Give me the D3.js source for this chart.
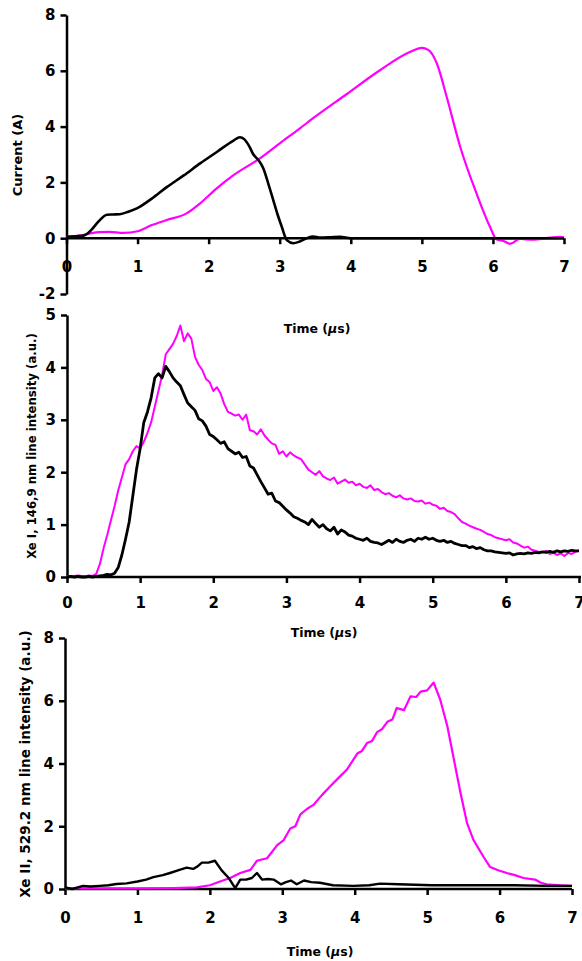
<!DOCTYPE html>
<html>
<head>
<meta charset="utf-8">
<script src="https://cdn.jsdelivr.net/npm/d3@7"></script>
<style>
  body { margin: 0; background: #fff; }
  svg text { font-family: "DejaVu Sans", Verdana, sans-serif; font-weight: bold; fill: #000; }
</style>
</head>
<body>
<script>
// Top panel: discharge current (A) vs time (us)
const currentBlack = [
  [0, 0.05], [0.15, 0.07], [0.25, 0.1], [0.35, 0.3], [0.45, 0.6], [0.57, 0.84], [0.66, 0.85],
  [0.75, 0.86], [0.87, 0.95], [0.99, 1.07], [1.2, 1.42], [1.41, 1.83], [1.65, 2.25],
  [1.88, 2.68], [2.12, 3.1], [2.35, 3.5], [2.44, 3.62], [2.5, 3.55], [2.57, 3.3],
  [2.63, 3.0], [2.7, 2.8], [2.77, 2.5], [2.84, 1.95], [2.91, 1.36], [2.97, 0.85],
  [3.03, 0.4], [3.1, -0.07], [3.19, -0.18], [3.28, -0.12], [3.38, 0.0], [3.47, 0.06],
  [3.57, 0.02], [3.7, 0.03], [3.85, 0.05], [4.0, 0.0], [5.0, 0.0], [6.0, 0.0], [7.0, 0.0]
];
const currentMagenta = [
  [0, 0.05], [0.2, 0.1], [0.35, 0.18], [0.47, 0.22], [0.6, 0.23], [0.8, 0.19], [1.0, 0.25],
  [1.2, 0.47], [1.41, 0.65], [1.69, 0.89], [1.88, 1.25], [2.11, 1.78], [2.35, 2.26],
  [2.72, 2.86], [3.0, 3.4], [3.28, 3.93], [3.47, 4.3], [3.94, 5.16], [4.41, 6.02],
  [4.83, 6.67], [5.0, 6.82], [5.09, 6.75], [5.21, 6.27], [5.35, 5.06], [5.54, 3.27],
  [5.77, 1.6], [5.96, 0.4], [6.05, -0.04], [6.15, -0.1], [6.24, -0.2], [6.29, -0.15],
  [6.38, -0.02], [6.47, -0.04], [6.57, -0.05], [6.75, 0.0], [6.95, 0.05], [7.0, 0.03]
];

// Middle panel: Xe I 146,9 nm line intensity (a.u.), sampled every 0.05 us
const xe1Step = 0.05;
const xe1Black = [
  0.0, 0.01, 0.0, 0.01, 0.0, 0.0, 0.01, 0.0, 0.01, 0.02,
  0.03, 0.05, 0.04, 0.07, 0.18, 0.42, 0.72, 1.05, 1.55, 2.05,
  2.45, 2.95, 3.15, 3.42, 3.8, 3.88, 3.8, 4.02, 3.92, 3.8,
  3.72, 3.65, 3.48, 3.32, 3.25, 3.18, 3.02, 2.98, 2.88, 2.72,
  2.68, 2.62, 2.55, 2.58, 2.45, 2.4, 2.35, 2.38, 2.28, 2.3,
  2.12, 2.08, 1.95, 1.82, 1.7, 1.58, 1.6, 1.45, 1.42, 1.35,
  1.28, 1.22, 1.15, 1.12, 1.08, 1.05, 1.0, 1.1, 1.02, 0.95,
  1.0, 0.92, 0.88, 0.95, 0.82, 0.9, 0.86, 0.8, 0.78, 0.74,
  0.72, 0.7, 0.74, 0.68, 0.66, 0.65, 0.62, 0.66, 0.7, 0.66,
  0.72, 0.68, 0.66, 0.7, 0.72, 0.68, 0.74, 0.72, 0.76, 0.72,
  0.74, 0.7, 0.68, 0.7, 0.66, 0.68, 0.64, 0.62, 0.6, 0.6,
  0.56, 0.58, 0.54, 0.56, 0.52, 0.5, 0.5, 0.48, 0.47, 0.46,
  0.45, 0.46, 0.42, 0.44, 0.45, 0.44, 0.46, 0.45, 0.47, 0.46,
  0.48, 0.47, 0.49, 0.47, 0.5, 0.48, 0.5, 0.49, 0.51, 0.5,
  0.5
];
const xe1Magenta = [
  0.02, 0.01, 0.02, 0.03, 0.02, 0.01, 0.03, 0.02, 0.06, 0.25,
  0.55, 0.8, 1.08, 1.35, 1.65, 1.9, 2.15, 2.25, 2.4, 2.5,
  2.45, 2.58, 2.75, 2.95, 3.25, 3.55, 3.85, 4.25, 4.35, 4.45,
  4.6, 4.8, 4.5, 4.65, 4.55, 4.2, 4.05, 3.95, 3.78, 3.72,
  3.55, 3.62, 3.5, 3.3, 3.15, 3.12, 3.08, 3.1, 3.0, 3.1,
  2.8, 2.78, 2.72, 2.82, 2.7, 2.62, 2.55, 2.52, 2.35, 2.4,
  2.3, 2.38, 2.32, 2.28, 2.25, 2.15, 2.05, 2.0, 1.95, 2.02,
  1.92, 1.88, 1.85, 1.9, 1.78, 1.82, 1.86, 1.8, 1.82, 1.75,
  1.78, 1.72, 1.7, 1.75, 1.66, 1.68, 1.62, 1.58, 1.6, 1.55,
  1.52, 1.56, 1.5, 1.48, 1.5, 1.45, 1.44, 1.46, 1.4, 1.42,
  1.38, 1.36, 1.3, 1.32, 1.26, 1.24, 1.2, 1.12, 1.05, 1.02,
  0.98, 0.95, 0.92, 0.9, 0.86, 0.82, 0.8, 0.76, 0.74, 0.72,
  0.7, 0.72, 0.66, 0.64, 0.6, 0.56, 0.58, 0.52, 0.5, 0.48,
  0.47, 0.5, 0.44, 0.46, 0.42, 0.45, 0.4, 0.46, 0.44, 0.48,
  0.5
];

// Bottom panel: Xe II 529.2 nm line intensity (a.u.)
const xe2Black = [
  [0, 0.05], [0.1, 0.0], [0.25, 0.1], [0.35, 0.08], [0.48, 0.1], [0.6, 0.12], [0.71, 0.16],
  [0.85, 0.18], [1.0, 0.24], [1.12, 0.3], [1.22, 0.38], [1.35, 0.44], [1.45, 0.51],
  [1.57, 0.6], [1.68, 0.68], [1.77, 0.64], [1.83, 0.72], [1.89, 0.84], [1.98, 0.84],
  [2.07, 0.9], [2.16, 0.6], [2.26, 0.35], [2.35, 0.03], [2.42, 0.3], [2.5, 0.3],
  [2.58, 0.35], [2.65, 0.51], [2.72, 0.3], [2.8, 0.32], [2.88, 0.3], [2.98, 0.15],
  [3.05, 0.22], [3.12, 0.27], [3.2, 0.15], [3.3, 0.27], [3.4, 0.22], [3.52, 0.2],
  [3.7, 0.12], [3.98, 0.1], [4.2, 0.12], [4.35, 0.17], [4.6, 0.15], [5.06, 0.12],
  [5.75, 0.12], [6.2, 0.12], [6.66, 0.1], [7.0, 0.1]
];
const xe2Magenta = [
  [0, 0.02], [0.5, 0.02], [1.0, 0.02], [1.5, 0.03], [1.82, 0.05], [2.0, 0.12], [2.14, 0.24],
  [2.28, 0.35], [2.42, 0.51], [2.56, 0.61], [2.65, 0.9], [2.79, 0.98], [2.93, 1.4],
  [3.02, 1.56], [3.11, 1.93], [3.18, 2.0], [3.25, 2.38], [3.34, 2.55], [3.43, 2.68],
  [3.55, 3.0], [3.66, 3.27], [3.78, 3.55], [3.89, 3.8], [4.04, 4.33], [4.1, 4.4],
  [4.17, 4.65], [4.24, 4.72], [4.31, 5.0], [4.38, 5.1], [4.45, 5.33], [4.52, 5.4],
  [4.58, 5.77], [4.68, 5.7], [4.77, 6.14], [4.85, 6.12], [4.91, 6.29], [5.0, 6.33],
  [5.09, 6.58], [5.18, 6.04], [5.28, 5.18], [5.37, 4.12], [5.46, 3.07], [5.55, 2.11],
  [5.64, 1.56], [5.72, 1.25], [5.78, 1.02], [5.87, 0.7], [5.98, 0.6], [6.1, 0.51],
  [6.2, 0.45], [6.33, 0.35], [6.49, 0.3], [6.57, 0.2], [6.65, 0.15], [6.84, 0.12], [7.0, 0.1]
];

const xTicks = [0, 1, 2, 3, 4, 5, 6, 7];
const currentTicks = [-2, 0, 2, 4, 6, 8];
const xe1Ticks = [0, 1, 2, 3, 4, 5];
const xe2Ticks = [0, 2, 4, 6, 8];

const width = 582;
const height = 961;
const magenta = "#ff00ff";

const svg = d3.select("body").append("svg")
  .attr("width", width)
  .attr("height", height);

// plain hyphen for negatives, like the original
const fmt = (d) => String(d);

// helper to build one panel
function drawPanel(opt) {
  const x = d3.scaleLinear().domain([0, 7]).range(opt.xRange);
  const y = d3.scaleLinear().domain(opt.yDomain).range(opt.yRange);
  const g = svg.append("g");

  // y axis
  const yAxis = g.append("g")
    .attr("transform", `translate(${opt.xRange[0]},0)`)
    .call(d3.axisLeft(y).tickValues(opt.yTicks).tickFormat(fmt)
      .tickSize(6).tickSizeOuter(0).tickPadding(5));
  yAxis.select(".domain").attr("stroke-width", 2.5);
  yAxis.selectAll(".tick line").attr("stroke-width", 2.5);
  yAxis.selectAll("text").style("font-size", "15px").attr("font-family", null);

  // x axis sits on y = 0
  const xAxis = g.append("g")
    .attr("transform", `translate(0,${y(0)})`)
    .call(d3.axisBottom(x).tickValues(xTicks).tickFormat(fmt)
      .tickSize(6).tickSizeOuter(0));
  xAxis.select(".domain").attr("stroke-width", 2.5)
    .attr("d", `M${opt.xRange[0]},0H${opt.xEnd}`);
  xAxis.selectAll(".tick line").attr("stroke-width", 2.5);
  xAxis.selectAll("text")
    .style("font-size", "15px")
    .attr("font-family", null)
    .attr("y", opt.labelDrop)
    .attr("dy", "0.35em");

  const line = d3.line()
    .x((d) => x(d[0]))
    .y((d) => y(d[1]))
    .curve(opt.curve);

  opt.series.forEach((s) => {
    g.append("path")
      .datum(s.data)
      .attr("fill", "none")
      .attr("stroke", s.color)
      .attr("stroke-width", s.width)
      .attr("stroke-linejoin", "round")
      .attr("d", line);
  });

  // x title
  const xt = g.append("text")
    .attr("x", opt.xTitle[0])
    .attr("y", opt.xTitle[1])
    .attr("text-anchor", "middle")
    .attr("dy", "0.35em")
    .style("font-size", "12.5px");
  xt.append("tspan").text("Time (");
  xt.append("tspan").style("font-style", "italic").text("\u03bc");
  xt.append("tspan").text("s)");

  // y title
  g.append("text")
    .attr("transform", `translate(${opt.yTitle[0]},${opt.yTitle[1]}) rotate(-90)`)
    .attr("text-anchor", "middle")
    .attr("dy", "0.35em")
    .style("font-size", opt.yTitleSize)
    .text(opt.yTitleText);
}

const withTime = (vals, step) => vals.map((v, i) => [i * step, v]);

drawPanel({
  xRange: [66.5, 564], xEnd: 564,
  yDomain: [-2, 8], yRange: [294, 15], yTicks: currentTicks,
  labelDrop: 29, curve: d3.curveMonotoneX,
  series: [
    { data: currentMagenta, color: magenta, width: 2.2 },
    { data: currentBlack, color: "#000", width: 2.6 }
  ],
  xTitle: [317, 329],
  yTitle: [17, 155], yTitleSize: "13px", yTitleText: "Current (A)"
});

drawPanel({
  xRange: [67, 579], xEnd: 581,
  yDomain: [0, 5], yRange: [577, 315], yTicks: xe1Ticks,
  labelDrop: 26, curve: d3.curveLinear,
  series: [
    { data: withTime(xe1Magenta, xe1Step), color: magenta, width: 2 },
    { data: withTime(xe1Black, xe1Step), color: "#000", width: 2.8 }
  ],
  xTitle: [324, 633],
  yTitle: [32, 446], yTitleSize: "11.7px", yTitleText: "Xe I, 146,9 nm line intensity (a.u.)"
});

drawPanel({
  xRange: [65, 572], xEnd: 572,
  yDomain: [0, 8], yRange: [889, 638], yTicks: xe2Ticks,
  labelDrop: 29, curve: d3.curveLinear,
  series: [
    { data: xe2Magenta, color: magenta, width: 2.2 },
    { data: xe2Black, color: "#000", width: 2.4 }
  ],
  xTitle: [320, 952],
  yTitle: [25, 764], yTitleSize: "13.6px", yTitleText: "Xe II, 529.2 nm line intensity (a.u.)"
});
</script>
</body>
</html>
